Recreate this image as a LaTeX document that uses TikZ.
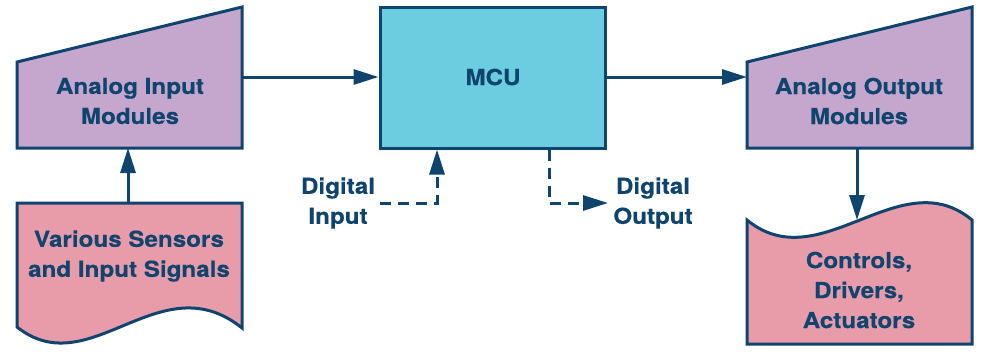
\documentclass[tikz,border=0pt]{standalone}
\usepackage{fontspec}
\setmainfont{TeX Gyre Heros}[FakeStretch=1.1, FakeBold=0.4]
\usetikzlibrary{arrows.meta}
\definecolor{navy}{HTML}{0F446E}
\definecolor{lilac}{HTML}{C5A6CC}
\definecolor{rosy}{HTML}{E89CA9}
\definecolor{cyanbox}{HTML}{6DCDE0}
\tikzset{
  shapeline/.style={draw=navy, line width=3pt},
  lbl/.style={text=navy, font=\fontsize{22}{30}\selectfont\bfseries, align=center},
  conn/.style={navy, line width=3pt, -{Triangle[length=25pt,width=15pt]}},
  dconn/.style={conn, dash pattern=on 11pt off 7pt},
}
\begin{document}
\begin{tikzpicture}[x=1pt,y=-1pt]
\useasboundingbox (0,0) rectangle (990,354);
% Analog input trapezoid
\path[shapeline, fill=lilac] (17,62) -- (242,7) -- (242,148) -- (17,148) -- cycle;
\coordinate (aiR) at (242,77);
\coordinate (aiB) at (128,148);
\node[lbl] (ait) at (130,101) {Analog Input\\Modules};
% Sensors document
\path[shapeline, fill=rosy] (17,327) -- (17,203) -- (242,203) -- (242,328)
  .. controls (160,262) and (90,385) .. (17,327) -- cycle;
\coordinate (senT) at (128,203);
\node[lbl] (sent) at (129,256) {Various Sensors\\and Input Signals};
% MCU
\node[shapeline, fill=cyanbox, minimum width=225pt, minimum height=141pt, inner sep=0pt] (mcu) at (492.5,77.5) {};
\node[lbl] (mcut) at (493,77) {MCU};
% Analog output trapezoid
\path[shapeline, fill=lilac] (747,62) -- (972,7) -- (972,148) -- (747,148) -- cycle;
\coordinate (aoL) at (747,77);
\coordinate (aoB) at (857,148);
\node[lbl] (aot) at (859,101) {Analog Output\\Modules};
% Controls document
\path[shapeline, fill=rosy] (747,220) .. controls (820,280) and (900,160) .. (972,220)
  -- (972,344) -- (747,344) -- cycle;
\coordinate (ctlT) at (857,220);
\node[lbl] (ctlt) at (859,290) {Controls,\\Drivers,\\Actuators};
% Digital labels
\node[lbl] (dil) at (338,203) {Digital\\Input};
\node[lbl] (dol) at (653,203) {Digital\\Output};
\coordinate (diS) at (380,203);
\coordinate (diC) at (437,203);
\coordinate (doC) at (549,203);
\coordinate (doE) at (608,203);
% connectors
\draw[conn] (senT) -- (aiB);
\draw[conn] (aiR) -- (aiR -| mcu.west);
\draw[conn] (aiR -| mcu.east) -- (aoL);
\draw[conn] (aoB) -- (ctlT);
\draw[dconn] (diS) -- (diC) -- (diC |- mcu.south);
\draw[dconn] (doC |- mcu.south) -- (doC) -- (doE);
\end{tikzpicture}
\end{document}
